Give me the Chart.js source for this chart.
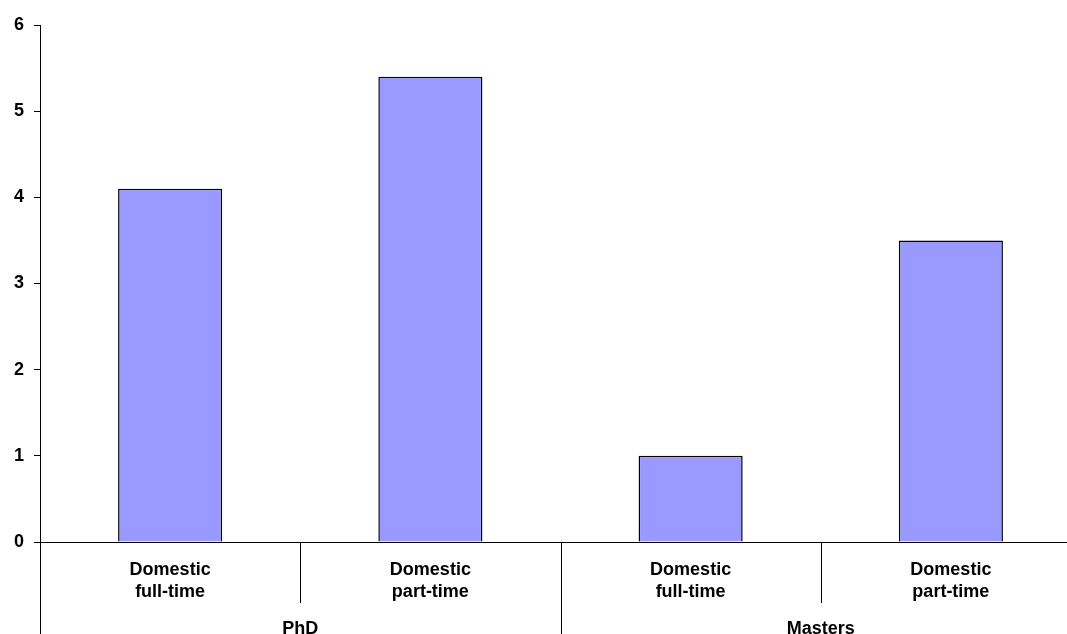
<!DOCTYPE html>
<html>
<head>
<meta charset="utf-8">
<script src="https://cdn.jsdelivr.net/npm/chart.js@4/dist/chart.umd.min.js"></script>
<style>
  html, body { margin: 0; padding: 0; background: #fff; overflow: hidden; }
  #wrap { width: 1067px; height: 634px; overflow: hidden; }
</style>
</head>
<body>
<div id="wrap"><canvas id="chart" width="1100" height="634"></canvas></div>
<script>
// chart data
var categories = [["Domestic", "full-time"], ["Domestic", "part-time"], ["Domestic", "full-time"], ["Domestic", "part-time"]];
var values = [4.1, 5.4, 1.0, 3.5];
var groups = ["PhD", "Masters"];
var groupSize = 2;
var yTicks = [0, 1, 2, 3, 4, 5, 6];

var FONT = "'Liberation Sans', Arial, sans-serif";

// draws the category dividers and the group row under the x axis
var groupAxis = {
    id: 'groupAxis',
    afterDraw: function(chart) {
        var ctx = chart.ctx;
        var x = chart.scales.x;
        var area = chart.chartArea;
        var n = categories.length;
        var step = x.getPixelForValue(1) - x.getPixelForValue(0);
        ctx.save();
        ctx.strokeStyle = '#000';
        ctx.lineWidth = 1;
        for (var i = 0; i <= n; i++) {
            var px = Math.round(x.getPixelForValue(i) - step / 2) + 0.5;
            var bottom = (i % groupSize === 0) ? chart.height : area.bottom + 61;
            ctx.beginPath();
            ctx.moveTo(px, area.bottom);
            ctx.lineTo(px, bottom);
            ctx.stroke();
        }
        ctx.fillStyle = '#000';
        ctx.font = 'bold 18px ' + FONT;
        ctx.textAlign = 'center';
        ctx.textBaseline = 'alphabetic';
        groups.forEach(function(g, gi) {
            var a = x.getPixelForValue(gi * groupSize);
            var b = x.getPixelForValue(gi * groupSize + groupSize - 1);
            ctx.fillText(g, (a + b) / 2, area.bottom + 92);
        });
        ctx.restore();
    }
};

var ctx = document.getElementById('chart').getContext('2d');
var barChart = new Chart(ctx, {
    type: 'bar',
    data: {
        labels: categories,
        datasets: [{
            data: values,
            backgroundColor: '#9999FF',
            borderColor: '#000',
            borderWidth: 1.5,
            barPercentage: 0.4,
            categoryPercentage: 1.0
        }]
    },
    options: {
        responsive: false,
        animation: false,
        layout: {
            padding: { top: 25, right: 19, bottom: 0, left: 0 }
        },
        plugins: {
            legend: { display: false },
            tooltip: { enabled: false }
        },
        scales: {
            x: {
                grid: { display: false },
                border: { display: true, color: '#000', width: 1 },
                ticks: {
                    color: '#000',
                    padding: 9,
                    maxRotation: 0,
                    autoSkip: false,
                    font: { family: FONT, size: 18, weight: 'bold', lineHeight: 1.22 }
                },
                afterFit: function(scale) { scale.height = 92; }
            },
            y: {
                min: 0,
                max: 6,
                afterBuildTicks: function(scale) {
                    scale.ticks = yTicks.map(function(v) { return { value: v }; });
                },
                grid: { drawOnChartArea: false, tickLength: 6, color: '#000' },
                border: { display: true, color: '#000', width: 1 },
                ticks: {
                    color: '#000',
                    padding: 10,
                    font: { family: FONT, size: 18, weight: 'bold' }
                },
                afterFit: function(scale) { scale.width = 40; }
            }
        }
    },
    plugins: [groupAxis]
});
</script>
</body>
</html>
